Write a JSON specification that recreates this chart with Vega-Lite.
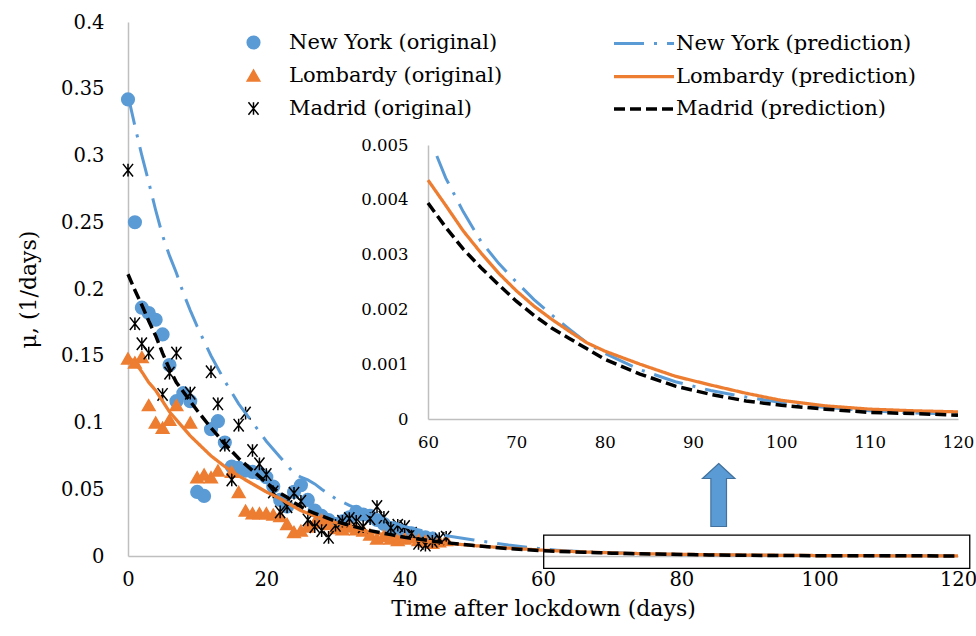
{
"$schema":"https://vega.github.io/schema/vega-lite/v6.json",
"width":830,"height":534,
"autosize":{"type":"none"},
"padding":{"left":128,"top":22,"right":18,"bottom":80},
"config":{"view":{"stroke":null},"font":"DejaVu Serif",
 "axis":{"grid":false,"ticks":false,"tickSize":0,"labelFlush":false,"labelOverlap":false,"domainColor":"#bfbfbf","domainWidth":1.5,"labelFont":"DejaVu Serif","labelColor":"#000","titleFont":"DejaVu Serif","titleFontWeight":"normal","titleColor":"#000"},
 "legend":{"labelFont":"DejaVu Serif","labelColor":"#000","labelFontSize":21,"labelLimit":400}},
"datasets":{
"obs":[
{"series":"New York (original)","day":0,"mu":0.342},{"series":"New York (original)","day":1,"mu":0.250},{"series":"New York (original)","day":2,"mu":0.186},{"series":"New York (original)","day":3,"mu":0.182},{"series":"New York (original)","day":4,"mu":0.177},{"series":"New York (original)","day":5,"mu":0.166},{"series":"New York (original)","day":6,"mu":0.143},{"series":"New York (original)","day":7,"mu":0.116},{"series":"New York (original)","day":8,"mu":0.122},{"series":"New York (original)","day":9,"mu":0.116},{"series":"New York (original)","day":10,"mu":0.048},{"series":"New York (original)","day":11,"mu":0.045},{"series":"New York (original)","day":12,"mu":0.095},{"series":"New York (original)","day":13,"mu":0.101},{"series":"New York (original)","day":14,"mu":0.085},{"series":"New York (original)","day":15,"mu":0.067},{"series":"New York (original)","day":16,"mu":0.066},{"series":"New York (original)","day":17,"mu":0.064},{"series":"New York (original)","day":18,"mu":0.063},{"series":"New York (original)","day":19,"mu":0.062},{"series":"New York (original)","day":20,"mu":0.059},{"series":"New York (original)","day":21,"mu":0.052},{"series":"New York (original)","day":22,"mu":0.042},{"series":"New York (original)","day":23,"mu":0.037},{"series":"New York (original)","day":24,"mu":0.048},{"series":"New York (original)","day":25,"mu":0.053},{"series":"New York (original)","day":26,"mu":0.042},{"series":"New York (original)","day":27,"mu":0.034},{"series":"New York (original)","day":28,"mu":0.030},{"series":"New York (original)","day":29,"mu":0.027},{"series":"New York (original)","day":30,"mu":0.024},{"series":"New York (original)","day":31,"mu":0.026},{"series":"New York (original)","day":32,"mu":0.029},{"series":"New York (original)","day":33,"mu":0.033},{"series":"New York (original)","day":34,"mu":0.031},{"series":"New York (original)","day":35,"mu":0.030},{"series":"New York (original)","day":36,"mu":0.027},{"series":"New York (original)","day":37,"mu":0.024},{"series":"New York (original)","day":38,"mu":0.021},{"series":"New York (original)","day":39,"mu":0.019},{"series":"New York (original)","day":40,"mu":0.018},{"series":"New York (original)","day":41,"mu":0.017},{"series":"New York (original)","day":42,"mu":0.015},{"series":"New York (original)","day":43,"mu":0.014},{"series":"New York (original)","day":44,"mu":0.013},
{"series":"Lombardy (original)","day":0,"mu":0.148},{"series":"Lombardy (original)","day":1,"mu":0.145},{"series":"Lombardy (original)","day":2,"mu":0.149},{"series":"Lombardy (original)","day":3,"mu":0.113},{"series":"Lombardy (original)","day":4,"mu":0.100},{"series":"Lombardy (original)","day":5,"mu":0.096},{"series":"Lombardy (original)","day":6,"mu":0.102},{"series":"Lombardy (original)","day":7,"mu":0.113},{"series":"Lombardy (original)","day":9,"mu":0.100},{"series":"Lombardy (original)","day":10,"mu":0.059},{"series":"Lombardy (original)","day":11,"mu":0.061},{"series":"Lombardy (original)","day":12,"mu":0.059},{"series":"Lombardy (original)","day":13,"mu":0.064},{"series":"Lombardy (original)","day":15,"mu":0.063},{"series":"Lombardy (original)","day":16,"mu":0.048},{"series":"Lombardy (original)","day":17,"mu":0.034},{"series":"Lombardy (original)","day":18,"mu":0.032},{"series":"Lombardy (original)","day":19,"mu":0.032},{"series":"Lombardy (original)","day":20,"mu":0.032},{"series":"Lombardy (original)","day":21,"mu":0.031},{"series":"Lombardy (original)","day":22,"mu":0.030},{"series":"Lombardy (original)","day":23,"mu":0.024},{"series":"Lombardy (original)","day":24,"mu":0.018},{"series":"Lombardy (original)","day":25,"mu":0.019},{"series":"Lombardy (original)","day":26,"mu":0.022},{"series":"Lombardy (original)","day":27,"mu":0.025},{"series":"Lombardy (original)","day":28,"mu":0.027},{"series":"Lombardy (original)","day":29,"mu":0.024},{"series":"Lombardy (original)","day":30,"mu":0.021},{"series":"Lombardy (original)","day":31,"mu":0.020},{"series":"Lombardy (original)","day":32,"mu":0.022},{"series":"Lombardy (original)","day":33,"mu":0.020},{"series":"Lombardy (original)","day":34,"mu":0.019},{"series":"Lombardy (original)","day":35,"mu":0.016},{"series":"Lombardy (original)","day":36,"mu":0.013},{"series":"Lombardy (original)","day":37,"mu":0.015},{"series":"Lombardy (original)","day":38,"mu":0.013},{"series":"Lombardy (original)","day":39,"mu":0.012},{"series":"Lombardy (original)","day":40,"mu":0.013},{"series":"Lombardy (original)","day":41,"mu":0.014},{"series":"Lombardy (original)","day":42,"mu":0.012},{"series":"Lombardy (original)","day":43,"mu":0.011},{"series":"Lombardy (original)","day":44,"mu":0.010},{"series":"Lombardy (original)","day":45,"mu":0.011},{"series":"Lombardy (original)","day":46,"mu":0.012},
{"series":"Madrid (original)","day":0,"mu":0.289},{"series":"Madrid (original)","day":1,"mu":0.174},{"series":"Madrid (original)","day":2,"mu":0.159},{"series":"Madrid (original)","day":3,"mu":0.152},{"series":"Madrid (original)","day":5,"mu":0.121},{"series":"Madrid (original)","day":6,"mu":0.137},{"series":"Madrid (original)","day":7,"mu":0.152},{"series":"Madrid (original)","day":9,"mu":0.122},{"series":"Madrid (original)","day":12,"mu":0.138},{"series":"Madrid (original)","day":13,"mu":0.114},{"series":"Madrid (original)","day":14,"mu":0.083},{"series":"Madrid (original)","day":15,"mu":0.057},{"series":"Madrid (original)","day":16,"mu":0.098},{"series":"Madrid (original)","day":17,"mu":0.107},{"series":"Madrid (original)","day":18,"mu":0.079},{"series":"Madrid (original)","day":19,"mu":0.069},{"series":"Madrid (original)","day":20,"mu":0.061},{"series":"Madrid (original)","day":21,"mu":0.048},{"series":"Madrid (original)","day":22,"mu":0.033},{"series":"Madrid (original)","day":23,"mu":0.037},{"series":"Madrid (original)","day":24,"mu":0.047},{"series":"Madrid (original)","day":25,"mu":0.041},{"series":"Madrid (original)","day":26,"mu":0.027},{"series":"Madrid (original)","day":27,"mu":0.022},{"series":"Madrid (original)","day":28,"mu":0.019},{"series":"Madrid (original)","day":29,"mu":0.014},{"series":"Madrid (original)","day":30,"mu":0.023},{"series":"Madrid (original)","day":31,"mu":0.026},{"series":"Madrid (original)","day":32,"mu":0.028},{"series":"Madrid (original)","day":33,"mu":0.026},{"series":"Madrid (original)","day":34,"mu":0.022},{"series":"Madrid (original)","day":35,"mu":0.028},{"series":"Madrid (original)","day":36,"mu":0.037},{"series":"Madrid (original)","day":37,"mu":0.029},{"series":"Madrid (original)","day":38,"mu":0.021},{"series":"Madrid (original)","day":39,"mu":0.023},{"series":"Madrid (original)","day":40,"mu":0.022},{"series":"Madrid (original)","day":41,"mu":0.017},{"series":"Madrid (original)","day":42,"mu":0.0095},{"series":"Madrid (original)","day":43,"mu":0.0082},{"series":"Madrid (original)","day":44,"mu":0.011},{"series":"Madrid (original)","day":45,"mu":0.013},{"series":"Madrid (original)","day":46,"mu":0.014}
],
"pred":[
{"series":"New York (prediction)","day":0,"mu":0.345},{"series":"New York (prediction)","day":1,"mu":0.322},{"series":"New York (prediction)","day":2,"mu":0.300},{"series":"New York (prediction)","day":3,"mu":0.280},{"series":"New York (prediction)","day":4,"mu":0.259},{"series":"New York (prediction)","day":5,"mu":0.240},{"series":"New York (prediction)","day":6,"mu":0.225},{"series":"New York (prediction)","day":7,"mu":0.212},{"series":"New York (prediction)","day":8,"mu":0.197},{"series":"New York (prediction)","day":9,"mu":0.184},{"series":"New York (prediction)","day":10,"mu":0.172},{"series":"New York (prediction)","day":12,"mu":0.150},{"series":"New York (prediction)","day":14,"mu":0.131},{"series":"New York (prediction)","day":16,"mu":0.114},{"series":"New York (prediction)","day":18,"mu":0.100},{"series":"New York (prediction)","day":20,"mu":0.086},{"series":"New York (prediction)","day":22,"mu":0.074},{"series":"New York (prediction)","day":23,"mu":0.068},{"series":"New York (prediction)","day":24,"mu":0.062},{"series":"New York (prediction)","day":25,"mu":0.059},{"series":"New York (prediction)","day":26,"mu":0.057},{"series":"New York (prediction)","day":27,"mu":0.054},{"series":"New York (prediction)","day":28,"mu":0.050},{"series":"New York (prediction)","day":30,"mu":0.043},{"series":"New York (prediction)","day":32,"mu":0.038},{"series":"New York (prediction)","day":35,"mu":0.031},{"series":"New York (prediction)","day":38,"mu":0.026},{"series":"New York (prediction)","day":40,"mu":0.022},{"series":"New York (prediction)","day":45,"mu":0.016},{"series":"New York (prediction)","day":50,"mu":0.012},{"series":"New York (prediction)","day":55,"mu":0.0082},{"series":"New York (prediction)","day":60,"mu":0.0052},{"series":"New York (prediction)","day":61,"mu":0.0048},{"series":"New York (prediction)","day":62,"mu":0.0044},{"series":"New York (prediction)","day":64,"mu":0.00378},{"series":"New York (prediction)","day":66,"mu":0.00324},{"series":"New York (prediction)","day":68,"mu":0.00284},{"series":"New York (prediction)","day":70,"mu":0.0025},{"series":"New York (prediction)","day":72,"mu":0.00218},{"series":"New York (prediction)","day":74,"mu":0.0019},{"series":"New York (prediction)","day":76,"mu":0.00164},{"series":"New York (prediction)","day":78,"mu":0.00139},{"series":"New York (prediction)","day":80,"mu":0.0012},{"series":"New York (prediction)","day":84,"mu":0.0009},{"series":"New York (prediction)","day":88,"mu":0.00068},{"series":"New York (prediction)","day":92,"mu":0.00052},{"series":"New York (prediction)","day":96,"mu":0.0004},{"series":"New York (prediction)","day":100,"mu":0.0003},{"series":"New York (prediction)","day":105,"mu":0.00021},{"series":"New York (prediction)","day":110,"mu":0.00015},{"series":"New York (prediction)","day":115,"mu":0.00011},{"series":"New York (prediction)","day":120,"mu":0.00009},
{"series":"Lombardy (prediction)","day":0,"mu":0.149},{"series":"Lombardy (prediction)","day":1,"mu":0.145},{"series":"Lombardy (prediction)","day":2,"mu":0.138},{"series":"Lombardy (prediction)","day":3,"mu":0.130},{"series":"Lombardy (prediction)","day":4,"mu":0.124},{"series":"Lombardy (prediction)","day":5,"mu":0.116},{"series":"Lombardy (prediction)","day":6,"mu":0.108},{"series":"Lombardy (prediction)","day":7,"mu":0.102},{"series":"Lombardy (prediction)","day":8,"mu":0.096},{"series":"Lombardy (prediction)","day":9,"mu":0.090},{"series":"Lombardy (prediction)","day":10,"mu":0.085},{"series":"Lombardy (prediction)","day":12,"mu":0.075},{"series":"Lombardy (prediction)","day":14,"mu":0.067},{"series":"Lombardy (prediction)","day":16,"mu":0.060},{"series":"Lombardy (prediction)","day":18,"mu":0.054},{"series":"Lombardy (prediction)","day":20,"mu":0.048},{"series":"Lombardy (prediction)","day":22,"mu":0.043},{"series":"Lombardy (prediction)","day":23,"mu":0.040},{"series":"Lombardy (prediction)","day":24,"mu":0.037},{"series":"Lombardy (prediction)","day":25,"mu":0.034},{"series":"Lombardy (prediction)","day":26,"mu":0.032},{"series":"Lombardy (prediction)","day":27,"mu":0.030},{"series":"Lombardy (prediction)","day":28,"mu":0.028},{"series":"Lombardy (prediction)","day":30,"mu":0.025},{"series":"Lombardy (prediction)","day":32,"mu":0.022},{"series":"Lombardy (prediction)","day":35,"mu":0.018},{"series":"Lombardy (prediction)","day":38,"mu":0.015},{"series":"Lombardy (prediction)","day":40,"mu":0.013},{"series":"Lombardy (prediction)","day":45,"mu":0.0100},{"series":"Lombardy (prediction)","day":50,"mu":0.0078},{"series":"Lombardy (prediction)","day":55,"mu":0.0059},{"series":"Lombardy (prediction)","day":60,"mu":0.00436},{"series":"Lombardy (prediction)","day":61,"mu":0.00413},{"series":"Lombardy (prediction)","day":62,"mu":0.0039},{"series":"Lombardy (prediction)","day":64,"mu":0.00343},{"series":"Lombardy (prediction)","day":66,"mu":0.00303},{"series":"Lombardy (prediction)","day":68,"mu":0.00266},{"series":"Lombardy (prediction)","day":70,"mu":0.00234},{"series":"Lombardy (prediction)","day":72,"mu":0.00206},{"series":"Lombardy (prediction)","day":74,"mu":0.00182},{"series":"Lombardy (prediction)","day":76,"mu":0.0016},{"series":"Lombardy (prediction)","day":78,"mu":0.00139},{"series":"Lombardy (prediction)","day":80,"mu":0.00124},{"series":"Lombardy (prediction)","day":84,"mu":0.001},{"series":"Lombardy (prediction)","day":88,"mu":0.00078},{"series":"Lombardy (prediction)","day":92,"mu":0.00062},{"series":"Lombardy (prediction)","day":96,"mu":0.00047},{"series":"Lombardy (prediction)","day":100,"mu":0.00034},{"series":"Lombardy (prediction)","day":105,"mu":0.00024},{"series":"Lombardy (prediction)","day":110,"mu":0.00018},{"series":"Lombardy (prediction)","day":115,"mu":0.00015},{"series":"Lombardy (prediction)","day":120,"mu":0.00013},
{"series":"Madrid (prediction)","day":0,"mu":0.211},{"series":"Madrid (prediction)","day":1,"mu":0.199},{"series":"Madrid (prediction)","day":2,"mu":0.188},{"series":"Madrid (prediction)","day":3,"mu":0.176},{"series":"Madrid (prediction)","day":4,"mu":0.165},{"series":"Madrid (prediction)","day":5,"mu":0.152},{"series":"Madrid (prediction)","day":6,"mu":0.140},{"series":"Madrid (prediction)","day":7,"mu":0.130},{"series":"Madrid (prediction)","day":8,"mu":0.123},{"series":"Madrid (prediction)","day":9,"mu":0.116},{"series":"Madrid (prediction)","day":10,"mu":0.109},{"series":"Madrid (prediction)","day":12,"mu":0.096},{"series":"Madrid (prediction)","day":14,"mu":0.084},{"series":"Madrid (prediction)","day":16,"mu":0.073},{"series":"Madrid (prediction)","day":18,"mu":0.064},{"series":"Madrid (prediction)","day":20,"mu":0.055},{"series":"Madrid (prediction)","day":22,"mu":0.047},{"series":"Madrid (prediction)","day":23,"mu":0.044},{"series":"Madrid (prediction)","day":24,"mu":0.040},{"series":"Madrid (prediction)","day":25,"mu":0.037},{"series":"Madrid (prediction)","day":26,"mu":0.034},{"series":"Madrid (prediction)","day":27,"mu":0.032},{"series":"Madrid (prediction)","day":28,"mu":0.030},{"series":"Madrid (prediction)","day":30,"mu":0.026},{"series":"Madrid (prediction)","day":32,"mu":0.023},{"series":"Madrid (prediction)","day":35,"mu":0.019},{"series":"Madrid (prediction)","day":38,"mu":0.016},{"series":"Madrid (prediction)","day":40,"mu":0.014},{"series":"Madrid (prediction)","day":45,"mu":0.0105},{"series":"Madrid (prediction)","day":50,"mu":0.0078},{"series":"Madrid (prediction)","day":55,"mu":0.0055},{"series":"Madrid (prediction)","day":60,"mu":0.00394},{"series":"Madrid (prediction)","day":61,"mu":0.00372},{"series":"Madrid (prediction)","day":62,"mu":0.0035},{"series":"Madrid (prediction)","day":64,"mu":0.0031},{"series":"Madrid (prediction)","day":66,"mu":0.00276},{"series":"Madrid (prediction)","day":68,"mu":0.00245},{"series":"Madrid (prediction)","day":70,"mu":0.00215},{"series":"Madrid (prediction)","day":72,"mu":0.00189},{"series":"Madrid (prediction)","day":74,"mu":0.00166},{"series":"Madrid (prediction)","day":76,"mu":0.00147},{"series":"Madrid (prediction)","day":78,"mu":0.00128},{"series":"Madrid (prediction)","day":80,"mu":0.00109},{"series":"Madrid (prediction)","day":84,"mu":0.00082},{"series":"Madrid (prediction)","day":88,"mu":0.0006},{"series":"Madrid (prediction)","day":92,"mu":0.00045},{"series":"Madrid (prediction)","day":96,"mu":0.00033},{"series":"Madrid (prediction)","day":100,"mu":0.00025},{"series":"Madrid (prediction)","day":105,"mu":0.00018},{"series":"Madrid (prediction)","day":110,"mu":0.00012},{"series":"Madrid (prediction)","day":115,"mu":0.0001},{"series":"Madrid (prediction)","day":120,"mu":0.00007}
],
"box":[{"x1":60.1,"x2":121.7,"y1":-0.0092,"y2":0.0157}],
"arrow":[{"day":85.4,"mu":0.0457}]
},
"layer":[
 {"layer":[
  {"data":{"name":"obs"},
   "mark":{"type":"point","filled":true,"opacity":1,"size":160,"strokeWidth":1.5},
   "encoding":{
    "x":{"field":"day","type":"quantitative","scale":{"domain":[0,120],"nice":false,"zero":false},
         "axis":{"orient":"bottom","values":[0,20,40,60,80,100,120],"labelFontSize":19.5,"labelPadding":14,"title":"Time after lockdown (days)","titleFontSize":22,"titlePadding":10}},
    "y":{"field":"mu","type":"quantitative","scale":{"domain":[0,0.4],"nice":false},
         "axis":{"orient":"left","values":[0,0.05,0.1,0.15,0.2,0.25,0.3,0.35,0.4],"format":"~g","labelFontSize":19.5,"labelPadding":24,"title":"μ, (1/days)","titleFontSize":22,"titlePadding":20}},
    "fill":{"field":"series","type":"nominal","scale":{"domain":["New York (original)","Lombardy (original)","Madrid (original)"],"range":["#5B9BD5","#ED7D31","#000000"]},
            "legend":{"orient":"none","legendX":115,"legendY":10,"title":null,"symbolSize":160,"symbolStrokeWidth":1.5,"labelOffset":25,"rowPadding":11,"symbolOpacity":1}},
    "stroke":{"field":"series","type":"nominal","scale":{"domain":["New York (original)","Lombardy (original)","Madrid (original)"],"range":["#5B9BD5","#ED7D31","#000000"]}},
    "shape":{"field":"series","type":"nominal","scale":{"domain":["New York (original)","Lombardy (original)","Madrid (original)"],"range":["circle","triangle-up","M-0.8,-1L0.8,1M0.8,-1L-0.8,1M0,-1L0,1"]}}
   }},
  {"data":{"name":"pred"},
   "mark":{"type":"line","strokeCap":"butt"},
   "encoding":{
    "x":{"field":"day","type":"quantitative"},
    "y":{"field":"mu","type":"quantitative"},
    "color":{"field":"series","type":"nominal","scale":{"domain":["New York (prediction)","Lombardy (prediction)","Madrid (prediction)"],"range":["#5B9BD5","#ED7D31","#000000"]},
             "legend":{"orient":"none","legendX":494,"legendY":0,"title":null,"symbolType":"M-1.5,0L1.5,0","symbolSize":1600,"labelOffset":10,"rowPadding":0.5}},
    "strokeDash":{"field":"series","type":"nominal","scale":{"domain":["New York (prediction)","Lombardy (prediction)","Madrid (prediction)"],"range":[[30,10,3,10],[1,0],[11,5]]}},
    "strokeWidth":{"field":"series","type":"nominal","scale":{"domain":["New York (prediction)","Lombardy (prediction)","Madrid (prediction)"],"range":[3,3.5,4.2]}}
   }},
  {"data":{"name":"box"},
   "mark":{"type":"rect","filled":false,"stroke":"#000000","strokeWidth":1.3},
   "encoding":{"x":{"field":"x1","type":"quantitative"},"x2":{"field":"x2"},"y":{"field":"y1","type":"quantitative"},"y2":{"field":"y2"}}},
  {"data":{"name":"arrow"},
   "mark":{"type":"point","filled":true,"opacity":1,"fill":"#5B9BD5","stroke":"#41719C","strokeWidth":1.2,"size":3969,"shape":"M0,-1L0.514,-0.524L0.248,-0.524L0.248,1L-0.248,1L-0.248,-0.524L-0.514,-0.524Z"},
   "encoding":{"x":{"field":"day","type":"quantitative"},"y":{"field":"mu","type":"quantitative"}}}
 ]},
 {"data":{"name":"pred"},
  "transform":[{"filter":"datum.day >= 60 && datum.mu <= 0.0051"}],
  "mark":{"type":"line","strokeCap":"butt"},
  "encoding":{
   "x":{"field":"day","type":"quantitative","scale":{"domain":[60,120],"nice":false,"zero":false,"range":[300,830]},
        "axis":{"orient":"bottom","offset":-137,"values":[60,70,80,90,100,110,120],"labelFontSize":16.5,"labelPadding":15,"title":null}},
   "y":{"field":"mu","type":"quantitative","scale":{"domain":[0,0.005],"nice":false,"range":[397,123]},
        "axis":{"orient":"left","offset":-300,"values":[0,0.001,0.002,0.003,0.004,0.005],"format":"~g","labelFontSize":16.5,"labelPadding":20,"title":null}},
   "color":{"field":"series","type":"nominal","scale":{"domain":["New York (prediction)","Lombardy (prediction)","Madrid (prediction)"],"range":["#5B9BD5","#ED7D31","#000000"]}},
   "strokeDash":{"field":"series","type":"nominal","scale":{"domain":["New York (prediction)","Lombardy (prediction)","Madrid (prediction)"],"range":[[30,10,3,10],[1,0],[11,5]]}},
   "strokeWidth":{"field":"series","type":"nominal","scale":{"domain":["New York (prediction)","Lombardy (prediction)","Madrid (prediction)"],"range":[3,3.5,4.2]}}
  }}
],
"resolve":{"scale":{"x":"independent","y":"independent"},"axis":{"x":"independent","y":"independent"}}
}
